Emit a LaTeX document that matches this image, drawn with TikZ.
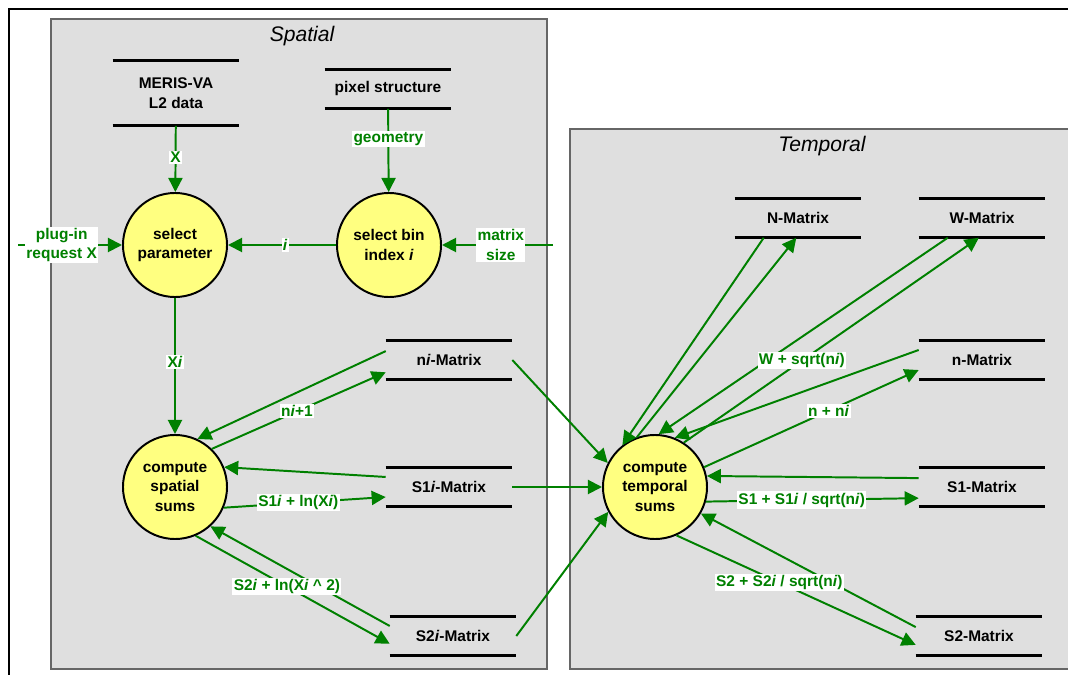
\documentclass[tikz,border=0pt]{standalone}
\usepackage{fontspec}
\setmainfont{Liberation Sans}
\usetikzlibrary{arrows.meta}
\definecolor{flowgreen}{RGB}{0,128,0}
\definecolor{panelgray}{RGB}{223,223,223}
\definecolor{bubble}{RGB}{255,255,128}
\tikzstyle{panel}=[
    draw=black!60,
    line width=0.8pt,
    fill=panelgray]
\tikzstyle{title}=[
    font=\fontsize{15}{18}\selectfont\itshape]
\tikzstyle{process}=[
    circle,
    draw=black,
    line width=1.4pt,
    fill=bubble,
    minimum size=2.6cm,
    inner sep=0pt,
    align=center,
    font=\fontsize{11}{14}\selectfont\bfseries]
\tikzstyle{store}=[
    rectangle,
    minimum width=3.15cm,
    minimum height=0.975cm,
    inner sep=0pt,
    align=center,
    font=\fontsize{11}{14}\selectfont\bfseries,
    append after command={
      (\tikzlastnode.north west) edge[line width=2pt, black, -] (\tikzlastnode.north east)
      (\tikzlastnode.south west) edge[line width=2pt, black, -] (\tikzlastnode.south east)}]
\tikzstyle{flow}=[
    draw=flowgreen,
    line width=1.4pt,
    -{Triangle[length=10pt,width=10pt]}]
\tikzstyle{flowlabel}=[
    fill=white,
    text=flowgreen,
    inner sep=1pt,
    align=center,
    font=\fontsize{11}{14}\selectfont\bfseries]

\begin{document}
\begin{tikzpicture}[x=0.025cm, y=-0.025cm]
    \useasboundingbox (0,0) rectangle (1068,675);
    \draw[line width=1.4pt] (9,675) -- (9,9) -- (1068,9);

    % the two panels
    \draw[panel] (51,19) rectangle (547,669);
    \draw[panel] (570,129) rectangle (1090,669);
    \node[title] (spttl) at (302,36) {Spatial};
    \node[title] (tmpttl) at (822,146) {Temporal};

    % spatial
    \node[store, minimum height=1.625cm] (meris) at (176,93) {MERIS-VA\\L2 data};
    \node[store] (pixel) at (388,89) {pixel structure};
    \node[process] (selpar) at (175,245) {select\\parameter};
    \node[process] (selbin) at (389,245) {select bin\\index \textit{i}};
    \node[process] (spatial) at (175,487) {compute\\spatial\\sums};
    \node[store] (ni) at (449,360) {n\textit{i}-Matrix};
    \node[store] (sonei) at (449,487) {S1\textit{i}-Matrix};
    \node[store] (stwoi) at (453,636) {S2\textit{i}-Matrix};
    \coordinate (plugin) at (18,245);
    \coordinate (msize) at (553,245);

    % temporal
    \node[process] (temporal) at (655,487) {compute\\temporal\\sums};
    \node[store] (bigN) at (798,218) {N-Matrix};
    \node[store] (bigW) at (982,218) {W-Matrix};
    \node[store] (nmat) at (982,360) {n-Matrix};
    \node[store] (sone) at (982,487) {S1-Matrix};
    \node[store] (stwo) at (979,636) {S2-Matrix};

    % spatial flows
    \draw[flow] (meris) -- node[flowlabel, pos=0.48] {X} (selpar);
    \draw[flow] (pixel) -- node[flowlabel, pos=0.36] {geometry} (selbin);
    \draw[flow] (plugin) -- node[flowlabel, pos=0.42] {plug-in\\request X} (selpar);
    \draw[flow] (msize) -- node[flowlabel, pos=0.47] {matrix\\size} (selbin);
    \draw[flow] (selbin) -- node[flowlabel, pos=0.47] {\textit{i}} (selpar);
    \draw[flow] (selpar) -- node[flowlabel, pos=0.47] {X\textit{i}} (spatial);
    \draw[flow] (ni.172) -- (spatial.65);
    \draw[flow] (spatial.46) -- node[flowlabel, pos=0.49] {n\textit{i}+1} (ni.191);
    \draw[flow] (sonei.171) -- (spatial.22);
    \draw[flow] (spatial.-23) -- node[flowlabel, pos=0.46] {S1\textit{i} + ln(X\textit{i})} (sonei.189);
    \draw[flow] (stwoi.171) -- (spatial.-48);
    \draw[flow] (spatial.-67) -- node[flowlabel, pos=0.47] {S2\textit{i} + ln(X\textit{i} \textasciicircum{} 2)} (stwoi.187);

    % into temporal
    \draw[flow] (ni.east) -- (temporal.153);
    \draw[flow] (sonei.east) -- (temporal.west);
    \draw[flow] (stwoi.east) -- (temporal.208);

    % temporal flows
    \draw[flow] (bigN.210) -- (temporal.128);
    \draw[flow] (temporal.110) -- (bigN.265);
    \draw[flow] (bigW.210) -- (temporal.86);
    \draw[flow] (temporal.57) -- node[flowlabel, pos=0.4] {W + sqrt(n\textit{i})} (bigW.261);
    \draw[flow] (nmat.171) -- (temporal.68);
    \draw[flow] (temporal.22) -- node[flowlabel, pos=0.58] {n + n\textit{i}} (nmat.189);
    \draw[flow] (sone.172) -- (temporal.12);
    \draw[flow] (temporal.-16) -- node[flowlabel, pos=0.45] {S1 + S1\textit{i} / sqrt(n\textit{i})} (sone.190);
    \draw[flow] (stwo.172) -- (temporal.-30);
    \draw[flow] (temporal.-66) -- node[flowlabel, pos=0.43] {S2 + S2\textit{i} / sqrt(n\textit{i})} (stwo.188);
\end{tikzpicture}
\end{document}
